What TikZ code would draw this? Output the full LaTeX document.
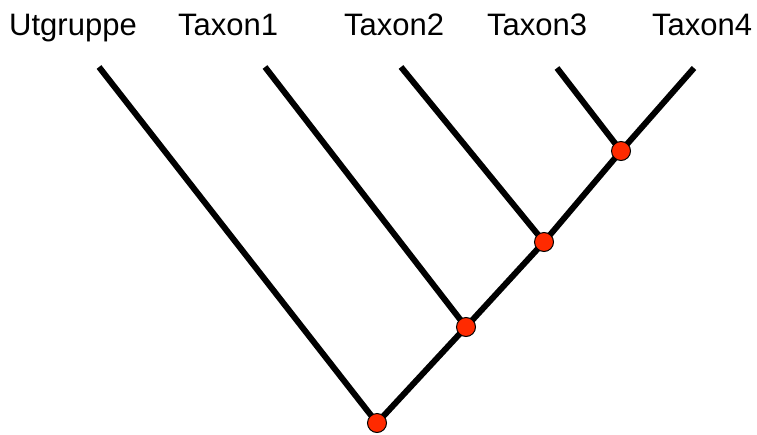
\documentclass[tikz,border=0pt]{standalone}
\usepackage{fontspec}
\setmainfont{Liberation Sans}
\definecolor{knotred}{HTML}{FF2A00}
\tikzset{
    taxon/.style={anchor=base, font=\fontsize{31}{37}\selectfont, inner sep=0pt},
    branch/.style={line width=6pt, black},
    knot/.style={circle, fill=knotred, draw=black, line width=1pt, minimum size=19pt, inner sep=0pt}
}
\begin{document}
\begin{tikzpicture}[x=1pt, y=-1pt]
        \useasboundingbox (0,0) rectangle (757,434);

        % Labels
        \node[taxon] (ut) at (73,35) {Utgruppe};
        \node[taxon] (t1) at (228,35) {Taxon1};
        \node[taxon] (t2) at (394,35) {Taxon2};
        \node[taxon] (t3) at (537,35) {Taxon3};
        \node[taxon] (t4) at (702,35) {Taxon4};

        % Leaf tips
        \coordinate (ut tip) at (99,67);
        \coordinate (t1 tip) at (265,67);
        \coordinate (t2 tip) at (401,67);
        \coordinate (t3 tip) at (557,68);
        \coordinate (t4 tip) at (694,68);

        % Inner knots
        \coordinate (root) at (377,423);
        \coordinate (k1) at (466,327);
        \coordinate (k2) at (544,242);
        \coordinate (k3) at (621,151);

        % Branches
        \draw[branch] (ut tip) -- (root);
        \draw[branch] (root) -- (k1) -- (k2) -- (k3) -- (t4 tip);
        \draw[branch] (t1 tip) -- (k1);
        \draw[branch] (t2 tip) -- (k2);
        \draw[branch] (t3 tip) -- (k3);

        % Knots on top
        \node[knot] (n0) at (root) {};
        \node[knot] (n1) at (k1) {};
        \node[knot] (n2) at (k2) {};
        \node[knot] (n3) at (k3) {};
    \end{tikzpicture}
\end{document}
